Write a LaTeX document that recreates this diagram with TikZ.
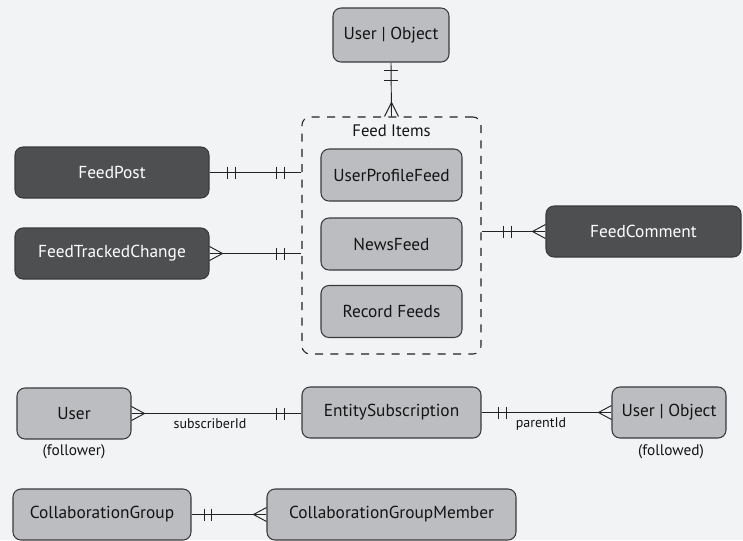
\documentclass[tikz,border=0pt]{standalone}
\usepackage{fontspec}
\setmainfont{PT Sans}
\usetikzlibrary{calc}
\definecolor{bgcol}{HTML}{F2F3F5}
\definecolor{boxfill}{HTML}{BCBDC0}
\definecolor{darkfill}{HTML}{4E4F51}
\definecolor{boxline}{HTML}{3A3A3C}
\definecolor{linecol}{HTML}{222222}
\tikzset{
  box/.style={draw=boxline, fill=boxfill, rounded corners=6pt, line width=0.8pt,
    font=\fontsize{13}{15}\selectfont, inner sep=0pt, text=black!92},
  dbox/.style={box, fill=darkfill, text=white},
  conn/.style={line width=0.7pt, draw=linecol},
  smalllbl/.style={font=\fontsize{10.5}{12}\selectfont, inner sep=0pt, text=black!92},
  midlbl/.style={font=\fontsize{11.5}{13}\selectfont, inner sep=0pt, text=black!92},
}
\newcommand\barv[1]{\draw[conn] ($(#1)+(0,-6)$) -- ($(#1)+(0,6)$);}
\newcommand\barh[1]{\draw[conn] ($(#1)+(-7,0)$) -- ($(#1)+(7,0)$);}
% crow at a west edge (line from left)
\newcommand\crowW[1]{\draw[conn] ($(#1)+(0,-7)$) -- ($(#1)+(-13,0)$) -- ($(#1)+(0,7)$);}
% crow at an east edge (line to right)
\newcommand\crowE[1]{\draw[conn] ($(#1)+(0,-7)$) -- ($(#1)+(13,0)$) -- ($(#1)+(0,7)$);}
% crow at a north edge (line from above)
\newcommand\crowN[1]{\draw[conn] ($(#1)+(-7,0)$) -- ($(#1)+(0,-14)$) -- ($(#1)+(7,0)$);}
\begin{document}
\begin{tikzpicture}[x=0.75pt,y=-0.75pt]
\fill[bgcol] (0,0) rectangle (743,540);
\useasboundingbox (0,0) rectangle (743,540);

% Feed items group
\node[draw=linecol, dash pattern=on 6pt off 5.5pt, line width=0.8pt, rounded corners=6pt,
  minimum width=179*0.75pt, minimum height=237*0.75pt, inner sep=0pt] (feed) at (391.5,235.5) {};
\node[font=\fontsize{12.5}{14}\selectfont, text=black!92, inner sep=0pt] (feedlbl) at (391.5,131) {Feed Items};

\node[box, minimum width=116*0.75pt, minimum height=54*0.75pt] (uo) at (391,35) {User | Object};
\node[box, minimum width=141*0.75pt, minimum height=52*0.75pt] (upf) at (391.5,175) {UserProfileFeed};
\node[box, minimum width=141*0.75pt, minimum height=52*0.75pt] (nf) at (391.5,244) {NewsFeed};
\node[box, minimum width=141*0.75pt, minimum height=52*0.75pt] (rf) at (391.5,311.5) {Record Feeds};

\node[dbox, minimum width=194*0.75pt, minimum height=51*0.75pt] (fp) at (112,172.5) {FeedPost};
\node[dbox, minimum width=194*0.75pt, minimum height=51*0.75pt] (ftc) at (112,253.5) {FeedTrackedChange};
\node[dbox, minimum width=195*0.75pt, minimum height=51*0.75pt] (fc) at (643.5,231.5) {FeedComment};

\node[box, minimum width=114*0.75pt, minimum height=51*0.75pt] (usr) at (74,413.5) {User};
\node[box, minimum width=179*0.75pt, minimum height=51*0.75pt] (es) at (391.5,412.5) {EntitySubscription};
\node[box, minimum width=114*0.75pt, minimum height=51*0.75pt] (uo2) at (669,412.5) {User | Object};
\node[midlbl] (follower) at (74,452) {(follower)};
\node[midlbl] (followed) at (671,452) {(followed)};

\node[box, minimum width=178*0.75pt, minimum height=51*0.75pt] (cg) at (102,514.5) {CollaborationGroup};
\node[box, minimum width=249*0.75pt, minimum height=51*0.75pt] (cgm) at (391.5,514.5) {CollaborationGroupMember};

% User|Object -> Feed items
\draw[conn] (uo.south) -- (feed.north);
\barh{$(uo.south)+(0,8)$}
\barh{$(uo.south)+(0,18)$}
\crowN{feed.north}

% FeedPost -- Feed
\coordinate (fpR) at (fp.east -| feed.west);
\draw[conn] (fp.east) -- (fpR);
\barv{$(fp.east)+(18,0)$}
\barv{$(fp.east)+(26,0)$}
\barv{$(fpR)+(-25,0)$}
\barv{$(fpR)+(-17,0)$}

% FeedTrackedChange -- Feed
\coordinate (ftcR) at (ftc.east -| feed.west);
\draw[conn] (ftc.east) -- (ftcR);
\crowE{ftc.east}
\barv{$(ftcR)+(-25,0)$}
\barv{$(ftcR)+(-17,0)$}

% Feed -- FeedComment
\coordinate (fcL) at (fc.west -| feed.east);
\draw[conn] (fcL) -- (fc.west);
\barv{$(fcL)+(22,0)$}
\barv{$(fcL)+(30,0)$}
\crowW{fc.west}

% User -- EntitySubscription
\coordinate (esL) at (usr.east -| es.west);
\draw[conn] (usr.east) -- (esL);
\crowE{usr.east}
\barv{$(esL)+(-25,0)$}
\barv{$(esL)+(-17,0)$}
\node[smalllbl] (sublbl) at (210,424) {subscriberId};

% EntitySubscription -- User|Object
\coordinate (uo2L) at (es.east -| uo2.west);
\draw[conn] (es.east) -- (uo2L);
\barv{$(es.east)+(17,0)$}
\barv{$(es.east)+(25,0)$}
\crowW{uo2L}
\node[smalllbl] (parlbl) at (541,424) {parentId};

% CollaborationGroup -- Member
\draw[conn] (cg.east) -- (cgm.west);
\barv{$(cg.east)+(13,0)$}
\barv{$(cg.east)+(20,0)$}
\crowW{cgm.west}
\end{tikzpicture}
\end{document}
